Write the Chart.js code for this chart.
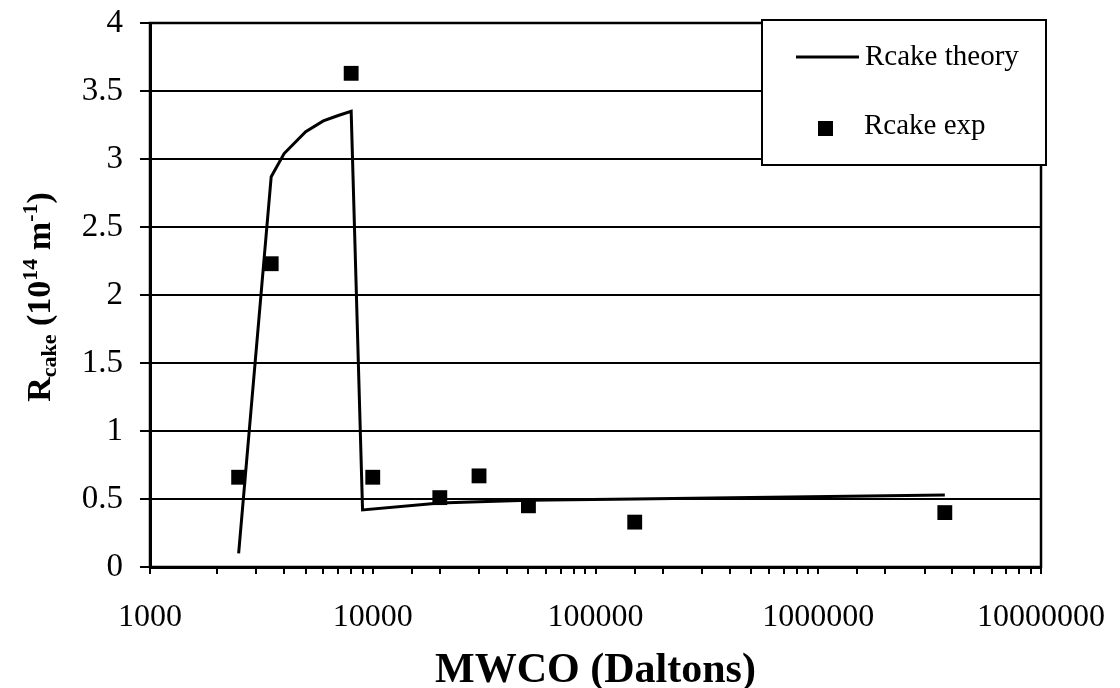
<!DOCTYPE html>
<html>
<head>
<meta charset="utf-8">
<script src="https://cdn.jsdelivr.net/npm/chart.js@4/dist/chart.umd.min.js"></script>
<style>
  html, body { margin: 0; padding: 0; background: #fff; }
  #wrap { position: relative; width: 1120px; height: 688px; }
</style>
</head>
<body>
<div id="wrap"><canvas id="chart"></canvas></div>
<script>
// MWCO (Daltons) vs Rcake
const theoryX = [2500, 3500, 4000, 5000, 6000, 7000, 8000, 9000, 20000, 30000, 50000, 150000, 3700000];
const theoryY = [0.10, 2.87, 3.04, 3.20, 3.28, 3.32, 3.35, 0.42, 0.47, 0.48, 0.49, 0.50, 0.53];

const expX = [2500, 3500, 8000, 10000, 20000, 30000, 50000, 150000, 3700000];
const expY = [0.66, 2.23, 3.63, 0.66, 0.51, 0.67, 0.45, 0.33, 0.40];

const seriesNames = ["Rcake theory", "Rcake exp"];
const xTickLabels = ["1000", "10000", "100000", "1000000", "10000000"];
const yTickLabels = ["0", "0.5", "1", "1.5", "2", "2.5", "3", "3.5", "4"];
const xTitle = "MWCO (Daltons)";
// y title pieces: text, small (sub/superscript), shift
const yTitleParts = [
  ["R", false, 0],
  ["cake", true, 6],
  [" (10", false, 0],
  ["14", true, -13],
  [" m", false, 0],
  ["-1", true, -13],
  [")", false, 0]
];

const serif = "'Liberation Serif', 'Times New Roman', serif";
const black = "#000";

// keep label overflow from pushing the plot area around
const noOverflow = s => {
  s.paddingTop = 0; s.paddingBottom = 0; s.paddingLeft = 0; s.paddingRight = 0;
};

// frame around the plot area
const frame = {
  id: "frame",
  beforeDatasetsDraw(chart) {
    const { ctx, chartArea: a } = chart;
    ctx.save();
    ctx.strokeStyle = black;
    ctx.lineWidth = 2.5;
    ctx.strokeRect(a.left, a.top, a.right - a.left, a.bottom - a.top);
    ctx.restore();
  }
};

// boxed legend in the upper right corner
const boxLegend = {
  id: "boxLegend",
  afterDraw(chart) {
    const { ctx, chartArea: a } = chart;
    const ds = chart.data.datasets;
    const left = a.right - 279, top = 20, w = 284, h = 145;
    ctx.save();
    ctx.fillStyle = "#fff";
    ctx.fillRect(left, top, w, h);
    ctx.strokeStyle = black;
    ctx.lineWidth = 2;
    ctx.strokeRect(left, top, w, h);

    ctx.font = "29px " + serif;
    ctx.fillStyle = black;
    ctx.textBaseline = "middle";
    ctx.textAlign = "left";

    // line entry
    ctx.lineWidth = 3;
    ctx.beginPath();
    ctx.moveTo(left + 34, top + 37);
    ctx.lineTo(left + 97, top + 37);
    ctx.stroke();
    ctx.fillText(ds[0].label, left + 103, top + 37);

    // marker entry
    ctx.fillRect(left + 56, top + 101, 15, 15);
    ctx.fillText(ds[1].label, left + 102, top + 106);
    ctx.restore();
  }
};

// rotated y title with sub/superscripts
const yTitle = {
  id: "yTitle",
  afterDraw(chart) {
    const { ctx } = chart;
    const big = "bold 34px " + serif, small = "bold 22px " + serif;
    ctx.save();
    let total = 0;
    yTitleParts.forEach(p => { ctx.font = p[1] ? small : big; total += ctx.measureText(p[0]).width; });
    ctx.translate(50, 297);
    ctx.rotate(-Math.PI / 2);
    ctx.fillStyle = black;
    ctx.textBaseline = "alphabetic";
    let x = -total / 2;
    yTitleParts.forEach(p => {
      ctx.font = p[1] ? small : big;
      ctx.fillText(p[0], x, p[2]);
      x += ctx.measureText(p[0]).width;
    });
    ctx.restore();
  }
};

new Chart(document.getElementById("chart"), {
  type: "scatter",
  data: {
    datasets: [
      {
        label: seriesNames[0],
        data: theoryX.map((x, i) => ({ x: x, y: theoryY[i] })),
        showLine: true,
        borderColor: black,
        borderWidth: 3,
        pointRadius: 0,
        tension: 0,
        fill: false
      },
      {
        label: seriesNames[1],
        data: expX.map((x, i) => ({ x: x, y: expY[i] })),
        showLine: false,
        pointStyle: "rect",
        pointRadius: 10.5,
        backgroundColor: black,
        borderColor: black,
        borderWidth: 0
      }
    ]
  },
  options: {
    responsive: true,
    maintainAspectRatio: false,
    animation: false,
    layout: { padding: { top: 23, right: 79, bottom: 0, left: 0 } },
    plugins: {
      legend: { display: false },
      tooltip: { enabled: false }
    },
    scales: {
      x: {
        type: "logarithmic",
        min: 1000,
        max: 10000000,
        afterFit: s => { s.height = 121; noOverflow(s); },
        grid: { drawOnChartArea: false, drawTicks: true, tickLength: 7, color: black, lineWidth: 2 },
        border: { display: true, color: black, width: 3 },
        ticks: {
          autoSkip: false,
          maxRotation: 0,
          padding: 24,
          color: black,
          font: { family: serif, size: 32 },
          callback: v => {
            const e = Math.log10(v);
            if (Math.abs(e - Math.round(e)) > 1e-9) return "";
            return xTickLabels[Math.round(e) - 3];
          }
        },
        title: {
          display: true,
          text: xTitle,
          color: black,
          font: { family: serif, size: 42, weight: "bold", lineHeight: 0.8 },
          padding: { top: 0, bottom: 0 }
        }
      },
      y: {
        min: 0,
        max: 4,
        afterFit: s => { s.width = 150; noOverflow(s); },
        grid: { color: black, lineWidth: 2, tickLength: 10 },
        border: { display: true, color: black, width: 3 },
        ticks: {
          stepSize: 0.5,
          padding: 17,
          color: black,
          font: { family: serif, size: 33 },
          callback: (v, i) => yTickLabels[Math.round(v / 0.5)]
        }
      }
    }
  },
  plugins: [frame, boxLegend, yTitle]
});
</script>
</body>
</html>
